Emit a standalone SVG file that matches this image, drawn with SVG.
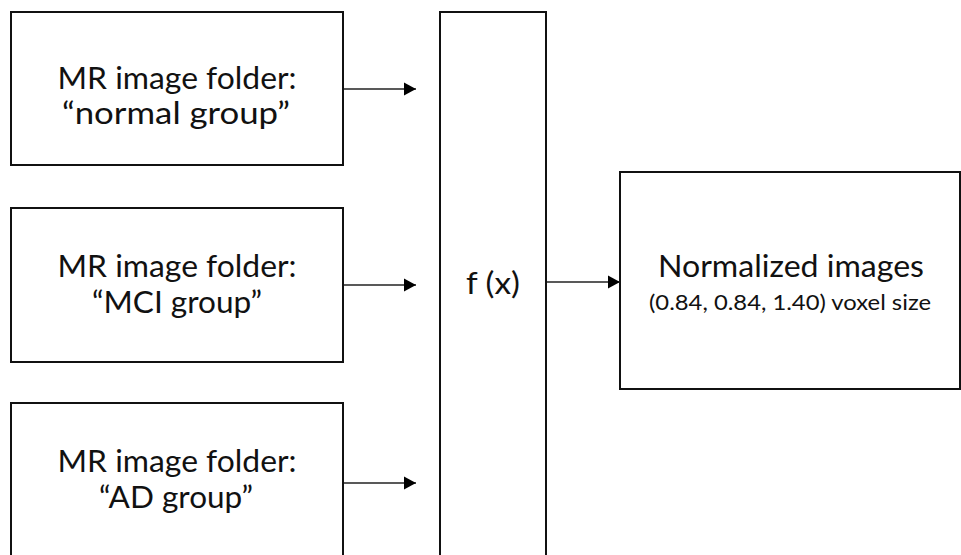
<svg xmlns="http://www.w3.org/2000/svg" width="961" height="555" viewBox="0 0 961 555">
  <defs>
    <marker id="arrow" markerUnits="userSpaceOnUse" markerWidth="14" markerHeight="14" refX="13" refY="7" orient="auto">
      <path d="M1,0.6 L13,7 L1,13.4 Z" fill="#000"/>
    </marker>
    <style>
      .box { fill: #fff; stroke: #111; stroke-width: 2; }
      .lbl { font-family: "Lato", "Open Sans", "Liberation Sans", sans-serif; font-size: 30px; fill: #111; text-anchor: middle; }
      .sub { font-family: "Lato", "Open Sans", "Liberation Sans", sans-serif; font-size: 22px; fill: #111; text-anchor: middle; }
      .conn { stroke: #222; stroke-width: 1.6; fill: none; marker-end: url(#arrow); }
    </style>
  </defs>
  <rect width="961" height="555" fill="#fff"/>

  <g id="node-normal">
    <rect class="box" x="11" y="12" width="332" height="153"/>
    <text class="lbl" x="177" y="89" textLength="239" lengthAdjust="spacingAndGlyphs">MR image folder:</text>
    <text class="lbl" x="176" y="124" textLength="228" lengthAdjust="spacingAndGlyphs">“normal group”</text>
  </g>

  <g id="node-mci">
    <rect class="box" x="11" y="208" width="332" height="154"/>
    <text class="lbl" x="177" y="277" textLength="239" lengthAdjust="spacingAndGlyphs">MR image folder:</text>
    <text class="lbl" x="177" y="313" textLength="170" lengthAdjust="spacingAndGlyphs">“MCI group”</text>
  </g>

  <g id="node-ad">
    <rect class="box" x="11" y="403" width="332" height="170"/>
    <text class="lbl" x="177" y="472" textLength="239" lengthAdjust="spacingAndGlyphs">MR image folder:</text>
    <text class="lbl" x="176" y="508" textLength="154" lengthAdjust="spacingAndGlyphs">“AD group”</text>
  </g>

  <g id="node-fx">
    <rect class="box" x="440" y="12" width="106" height="560"/>
    <text class="lbl" x="493" y="294" textLength="54" lengthAdjust="spacingAndGlyphs">f (x)</text>
  </g>

  <g id="node-normalized">
    <rect class="box" x="620" y="172" width="340" height="217"/>
    <text class="lbl" x="791" y="277" textLength="266" lengthAdjust="spacingAndGlyphs">Normalized images</text>
    <text class="sub" x="790" y="310" textLength="282" lengthAdjust="spacingAndGlyphs">(0.84, 0.84, 1.40) voxel size</text>
  </g>

  <g id="connectors">
    <line class="conn" x1="344" y1="89" x2="416" y2="89"/>
    <line class="conn" x1="344" y1="285" x2="416" y2="285"/>
    <line class="conn" x1="344" y1="483" x2="416" y2="483"/>
    <line class="conn" x1="547" y1="282" x2="620" y2="282"/>
  </g>
</svg>
